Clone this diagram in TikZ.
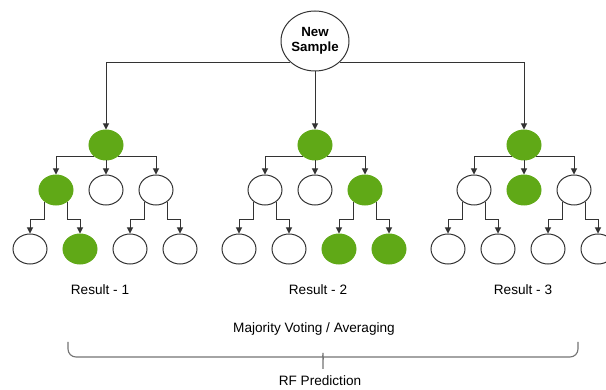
\documentclass[tikz,border=0pt]{standalone}
\usepackage{fontspec}
\setmainfont{Liberation Sans}
\usetikzlibrary{arrows.meta, positioning, shapes.geometric, calc}
\definecolor{leafgreen}{HTML}{60A917}
\definecolor{edgegray}{HTML}{333333}

\begin{document}
\begin{tikzpicture}[x=1pt, y=-1pt, >={Triangle[length=6pt, width=6pt]}, line width=1pt, node distance=50pt,
    leaf/.style={ellipse, minimum width=34pt, minimum height=30pt, inner sep=0pt},
    hit/.style={fill=leafgreen, draw=leafgreen},
    miss/.style={fill=white, draw=edgegray},
    link/.style={->, draw=edgegray},
    lbl/.style={font=\fontsize{13.6}{15}\selectfont, inner sep=0pt, anchor=base},
    brace/.style={draw=black!55, line width=1.1pt, rounded corners=8pt}]
  \useasboundingbox (0,0) rectangle (606,390);

  \node[ellipse, draw=edgegray, minimum width=68pt, minimum height=60pt, inner sep=0pt, align=center,
        font=\bfseries\fontsize{13.3}{15}\selectfont] (s) at (315,41) {New\\Sample};

  \foreach \t/\x/\ma/\mb/\mc/\ga/\gb/\gc/\gd in {1/106/hit/miss/miss/miss/hit/miss/miss,
      2/315/miss/miss/hit/miss/miss/hit/hit, 3/524/miss/hit/miss/miss/miss/miss/miss} {
    \node[leaf, hit] (r\t) at (\x,145) {};
    \node[leaf, \ma] (a\t) at (\x-50,190) {};
    \node[leaf, \mb] (b\t) [right of=a\t] {};
    \node[leaf, \mc] (c\t) [right of=b\t] {};
    \node[leaf, \ga] (d\t) at (\x-76,249) {};
    \node[leaf, \gb] (e\t) [right of=d\t] {};
    \node[leaf, \gc] (f\t) [right of=e\t] {};
    \node[leaf, \gd] (g\t) [right of=f\t] {};

    \draw[link] (r\t.-136) -| (a\t);
    \draw[link] (r\t) -- (b\t);
    \draw[link] (r\t.-44) -| (c\t);
    \draw[link] (a\t.-135) |- ($(d\t.north)+(0,-14)$) -- (d\t);
    \draw[link] (a\t.-45) |- ($(e\t.north)+(0,-14)$) -- (e\t);
    \draw[link] (c\t.-135) |- ($(f\t.north)+(0,-14)$) -- (f\t);
    \draw[link] (c\t.-45) |- ($(g\t.north)+(0,-14)$) -- (g\t);
  }

  \draw[link] (s.-139) -| (r1);
  \draw[link] (s) -- (r2);
  \draw[link] (s.-41) -| (r3);

  \node[lbl] (res1) at (100,295) {Result - 1};
  \node[lbl] (res2) at (318,295) {Result - 2};
  \node[lbl] (res3) at (523,295) {Result - 3};
  \node[lbl] (vote) at (314,333) {Majority Voting / Averaging};

  % curly bracket under the votes
  \draw[brace] (68,342) -- (68,357) -- (318,357) .. controls (321,357) and (323,358) .. (323,361) -- (323,369)
    (578,342) -- (578,357) -- (328,357) .. controls (325,357) and (323,358) .. (323,361);

  \node[lbl] (pred) at (320,386) {RF Prediction};
\end{tikzpicture}
\end{document}
